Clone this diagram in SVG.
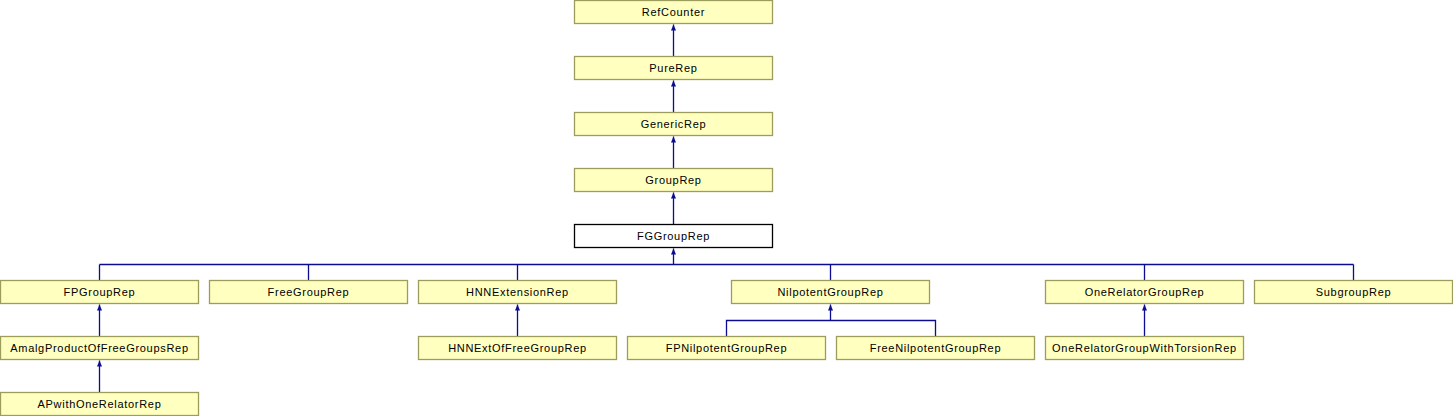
<svg xmlns="http://www.w3.org/2000/svg" width="1453" height="416" viewBox="0 0 1453 416">
<style>
.n rect{fill:#ffffc0;stroke:#9c9c5c;stroke-width:1.3}
.n.cur rect{fill:#ffffff;stroke:#000000}
.n text{font-family:"Liberation Sans",Arial,sans-serif;font-size:11px;letter-spacing:0.7px;text-anchor:middle;fill:#000000}
.e path{fill:none;stroke:#0c0c90;stroke-width:1.3}
</style>
<defs>
<marker id="ah" markerUnits="userSpaceOnUse" markerWidth="8" markerHeight="8" refX="6" refY="3" orient="auto">
<path d="M0,0.5 L6,3 L0,5.5 Z" fill="#0c0c90"/>
</marker>
</defs>
<g id="connectors" class="e">
<path d="M673.5,56.5 V24.5" marker-end="url(#ah)"/>
<path d="M673.5,112.5 V80.5" marker-end="url(#ah)"/>
<path d="M673.5,168.5 V136.5" marker-end="url(#ah)"/>
<path d="M673.5,224.5 V192.5" marker-end="url(#ah)"/>
<path d="M99.5,264.5 H1353.5"/>
<path d="M99.5,280.5 V264.5 M308.5,280.5 V264.5 M517.5,280.5 V264.5 M830.5,280.5 V264.5 M1144.5,280.5 V264.5 M1353.5,280.5 V264.5"/>
<path d="M673.5,264.5 V248.5" marker-end="url(#ah)"/>
<path d="M99.5,336.5 V304.5" marker-end="url(#ah)"/>
<path d="M99.5,392.5 V360.5" marker-end="url(#ah)"/>
<path d="M517.5,336.5 V304.5" marker-end="url(#ah)"/>
<path d="M726.5,336.5 V320.5 H935.5 V336.5"/>
<path d="M830.5,320.5 V304.5" marker-end="url(#ah)"/>
<path d="M1144.5,336.5 V304.5" marker-end="url(#ah)"/>
</g>
<g id="RefCounter" class="n"><rect x="574.5" y="0.5" width="198" height="23"/><text x="673.5" y="15.5">RefCounter</text></g>
<g id="PureRep" class="n"><rect x="574.5" y="56.5" width="198" height="23"/><text x="673.5" y="72">PureRep</text></g>
<g id="GenericRep" class="n"><rect x="574.5" y="112.5" width="198" height="23"/><text x="673.5" y="128">GenericRep</text></g>
<g id="GroupRep" class="n"><rect x="574.5" y="168.5" width="198" height="23"/><text x="673.5" y="184">GroupRep</text></g>
<g id="FGGroupRep" class="n cur"><rect x="574.5" y="224.5" width="198" height="23"/><text x="673.5" y="240">FGGroupRep</text></g>
<g id="FPGroupRep" class="n"><rect x="0.5" y="280.5" width="198" height="23"/><text x="99.5" y="296">FPGroupRep</text></g>
<g id="FreeGroupRep" class="n"><rect x="209.5" y="280.5" width="198" height="23"/><text x="308.5" y="296">FreeGroupRep</text></g>
<g id="HNNExtensionRep" class="n"><rect x="418.5" y="280.5" width="198" height="23"/><text x="517.5" y="296">HNNExtensionRep</text></g>
<g id="NilpotentGroupRep" class="n"><rect x="731.5" y="280.5" width="198" height="23"/><text x="830.5" y="296">NilpotentGroupRep</text></g>
<g id="OneRelatorGroupRep" class="n"><rect x="1045.5" y="280.5" width="198" height="23"/><text x="1144.5" y="296">OneRelatorGroupRep</text></g>
<g id="SubgroupRep" class="n"><rect x="1254.5" y="280.5" width="198" height="23"/><text x="1353.5" y="296">SubgroupRep</text></g>
<g id="AmalgProductOfFreeGroupsRep" class="n"><rect x="0.5" y="336.5" width="198" height="23"/><text x="99.5" y="352">AmalgProductOfFreeGroupsRep</text></g>
<g id="HNNExtOfFreeGroupRep" class="n"><rect x="418.5" y="336.5" width="198" height="23"/><text x="517.5" y="352">HNNExtOfFreeGroupRep</text></g>
<g id="FPNilpotentGroupRep" class="n"><rect x="627.5" y="336.5" width="198" height="23"/><text x="726.5" y="352">FPNilpotentGroupRep</text></g>
<g id="FreeNilpotentGroupRep" class="n"><rect x="836.5" y="336.5" width="198" height="23"/><text x="935.5" y="352">FreeNilpotentGroupRep</text></g>
<g id="OneRelatorGroupWithTorsionRep" class="n"><rect x="1045.5" y="336.5" width="198" height="23"/><text x="1144.5" y="352">OneRelatorGroupWithTorsionRep</text></g>
<g id="APwithOneRelatorRep" class="n"><rect x="0.5" y="392.5" width="198" height="23"/><text x="99.5" y="408">APwithOneRelatorRep</text></g>
</svg>
